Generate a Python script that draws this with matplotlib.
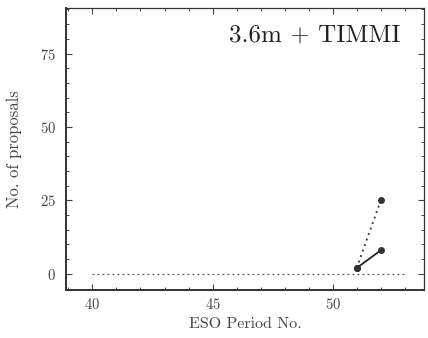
"""ESO proposals per period for the 3.6m + TIMMI instrument."""

import matplotlib
matplotlib.use("Agg")
import matplotlib.pyplot as plt
from matplotlib.ticker import MultipleLocator

plt.rcParams["font.family"] = ["cmr10", "DejaVu Serif"]
plt.rcParams["axes.formatter.use_mathtext"] = True
plt.rcParams["mathtext.fontset"] = "cm"

# Data.
periods = [51, 52]
submitted = [2, 25]      # dotted line
allocated = [2, 8]       # solid line
zero_span = [40, 53]
zero_level = [0, 0]

fig = plt.figure(figsize=(4.28, 3.38), dpi=100)
ax = fig.add_axes([66 / 428, 48 / 338, 358 / 428, 282 / 338])

ax.plot(zero_span, zero_level, color="#555555", lw=0.9, ls=(0, (1.5, 2.5)))
ax.plot(periods, submitted, color="#444444", lw=1.4, ls=(0, (1, 2)),
        marker="o", ms=4, mfc="#333333", mec="#333333")
ax.plot(periods, allocated, color="#222222", lw=1.3,
        marker="o", ms=4, mfc="#333333", mec="#333333")

ax.set_xlim(38.9, 53.8)
ax.set_ylim(-5.5, 90.5)
ax.xaxis.set_major_locator(MultipleLocator(5))
ax.xaxis.set_minor_locator(MultipleLocator(1))
ax.yaxis.set_major_locator(MultipleLocator(25))
ax.yaxis.set_minor_locator(MultipleLocator(5))
ax.tick_params(which="both", direction="in", top=True, right=True,
               labelsize=10.5, colors="#444444")
ax.tick_params(axis="y", pad=7)
ax.tick_params(axis="x", pad=5)
ax.tick_params(which="major", length=4, width=0.8)
ax.tick_params(which="minor", length=2.5, width=0.7)
for side in ("left", "bottom"):
    ax.spines[side].set_linewidth(1.4)
for side in ("top", "right"):
    ax.spines[side].set_linewidth(0.9)
for sp in ax.spines.values():
    sp.set_color("#333333")

ax.set_xlabel("ESO Period No.", fontsize=11.5, color="#444444", labelpad=4)
ax.set_ylabel("No. of proposals", fontsize=12, color="#444444", labelpad=13)
ax.text(0.935, 0.94, "3.6m + TIMMI", transform=ax.transAxes, ha="right",
        va="top", fontsize=18, color="#222222")

fig.savefig("out.png", dpi=100)
